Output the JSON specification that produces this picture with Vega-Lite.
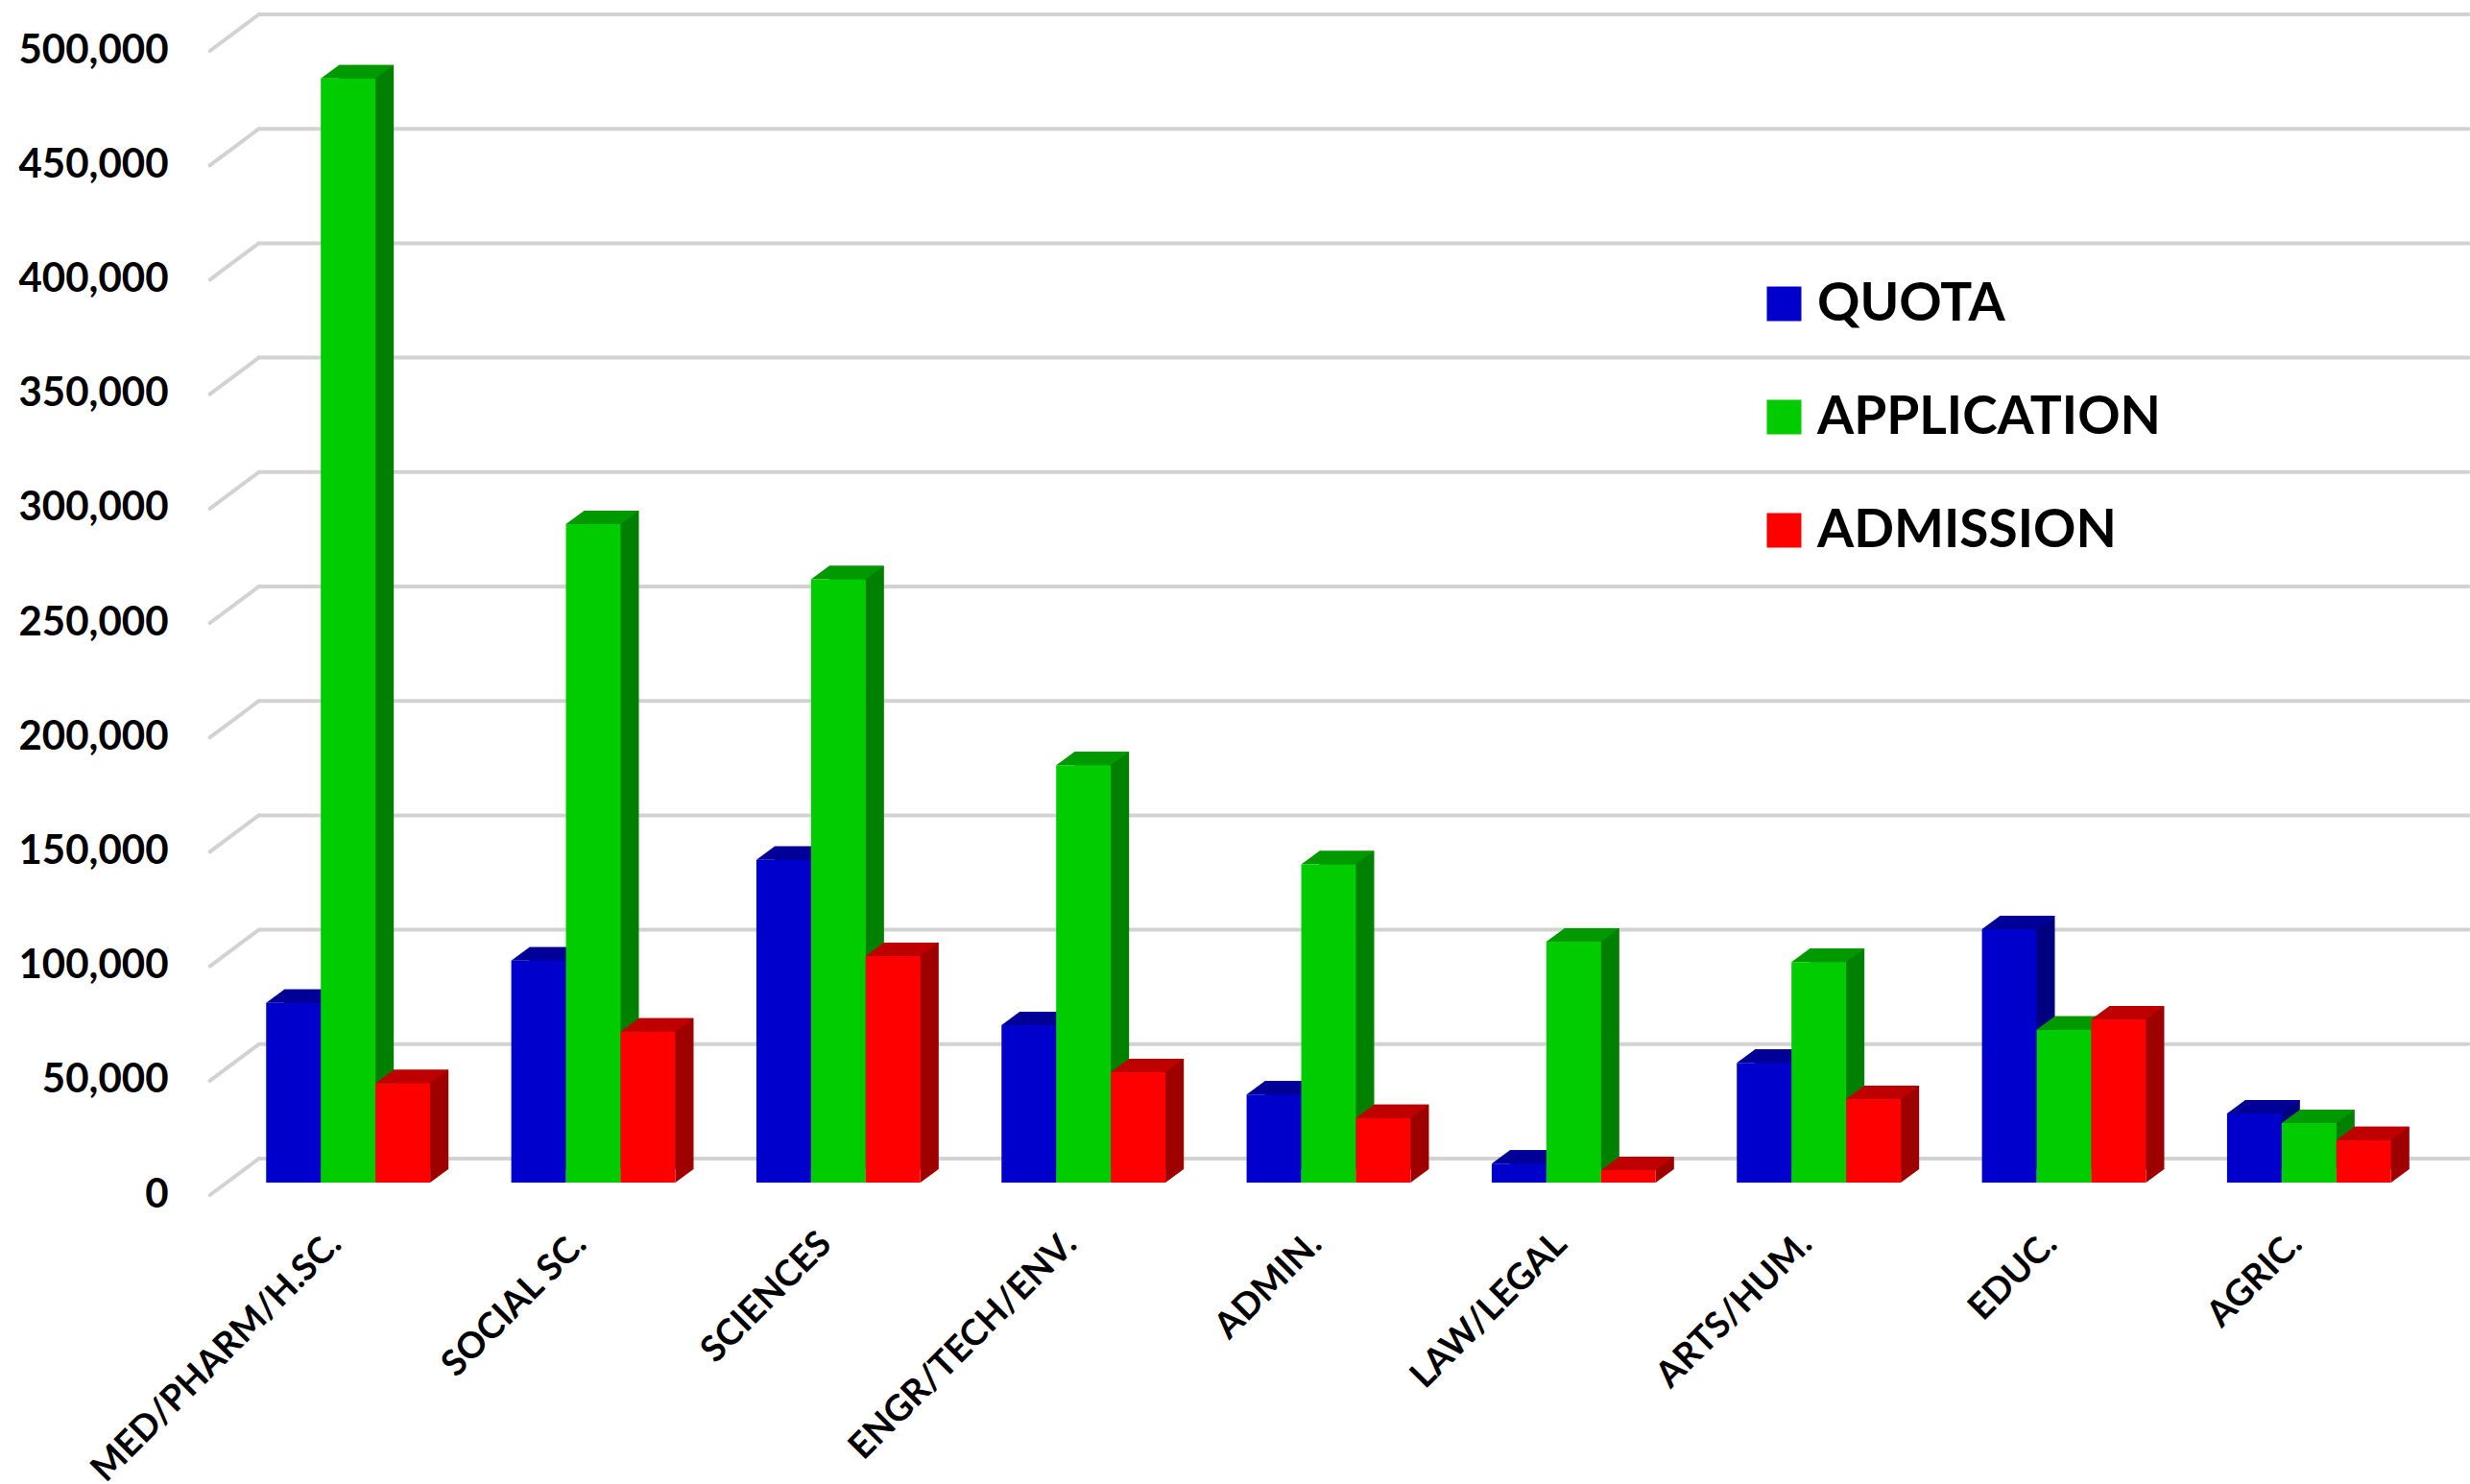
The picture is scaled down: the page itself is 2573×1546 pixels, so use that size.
{
"$schema":"https://vega.github.io/schema/vega-lite/v6.json",
"width":2298,"height":1192,
"autosize":{"type":"none"},
"padding":{"left":235,"top":40,"right":40,"bottom":314},
"background":"white",
"config":{"view":{"stroke":null},
 "axis":{"grid":false,"ticks":false,"domain":false,"labelColor":"#000000","labelFont":"Lato","labelFontWeight":"bold"},
 "axisX":{"labelAngle":-45,"labelAlign":"right","labelBaseline":"middle","labelFontSize":37.5,"labelPadding":58,"labelOffset":-13,"labelLimit":600},
 "axisY":{"labelFontSize":42,"labelPadding":60,"labelOffset":12,"labelOverlap":false}
},
"datasets":{
"grid":[{"tick":0,"from":"MED/PHARM/H.SC.","to":"AGRIC."},{"tick":50000,"from":"MED/PHARM/H.SC.","to":"AGRIC."},{"tick":100000,"from":"MED/PHARM/H.SC.","to":"AGRIC."},{"tick":150000,"from":"MED/PHARM/H.SC.","to":"AGRIC."},{"tick":200000,"from":"MED/PHARM/H.SC.","to":"AGRIC."},{"tick":250000,"from":"MED/PHARM/H.SC.","to":"AGRIC."},{"tick":300000,"from":"MED/PHARM/H.SC.","to":"AGRIC."},{"tick":350000,"from":"MED/PHARM/H.SC.","to":"AGRIC."},{"tick":400000,"from":"MED/PHARM/H.SC.","to":"AGRIC."},{"tick":450000,"from":"MED/PHARM/H.SC.","to":"AGRIC."},{"tick":500000,"from":"MED/PHARM/H.SC.","to":"AGRIC."}],
"bars":[
{"field":"MED/PHARM/H.SC.","series":"QUOTA","value":78500,"floor":0},{"field":"MED/PHARM/H.SC.","series":"APPLICATION","value":482500,"floor":0},{"field":"MED/PHARM/H.SC.","series":"ADMISSION","value":43400,"floor":0},
{"field":"SOCIAL SC.","series":"QUOTA","value":97000,"floor":0},{"field":"SOCIAL SC.","series":"APPLICATION","value":287700,"floor":0},{"field":"SOCIAL SC.","series":"ADMISSION","value":66000,"floor":0},
{"field":"SCIENCES","series":"QUOTA","value":141000,"floor":0},{"field":"SCIENCES","series":"APPLICATION","value":263600,"floor":0},{"field":"SCIENCES","series":"ADMISSION","value":99000,"floor":0},
{"field":"ENGR/TECH/ENV.","series":"QUOTA","value":68800,"floor":0},{"field":"ENGR/TECH/ENV.","series":"APPLICATION","value":182400,"floor":0},{"field":"ENGR/TECH/ENV.","series":"ADMISSION","value":48200,"floor":0},
{"field":"ADMIN.","series":"QUOTA","value":38500,"floor":0},{"field":"ADMIN.","series":"APPLICATION","value":139000,"floor":0},{"field":"ADMIN.","series":"ADMISSION","value":28200,"floor":0},
{"field":"LAW/LEGAL","series":"QUOTA","value":8300,"floor":0},{"field":"LAW/LEGAL","series":"APPLICATION","value":105300,"floor":0},{"field":"LAW/LEGAL","series":"ADMISSION","value":5500,"floor":0},
{"field":"ARTS/HUM.","series":"QUOTA","value":52300,"floor":0},{"field":"ARTS/HUM.","series":"APPLICATION","value":96400,"floor":0},{"field":"ARTS/HUM.","series":"ADMISSION","value":36500,"floor":0},
{"field":"EDUC.","series":"QUOTA","value":110700,"floor":0},{"field":"EDUC.","series":"APPLICATION","value":66800,"floor":0},{"field":"EDUC.","series":"ADMISSION","value":71300,"floor":0},
{"field":"AGRIC.","series":"QUOTA","value":30200,"floor":0},{"field":"AGRIC.","series":"APPLICATION","value":26000,"floor":0},{"field":"AGRIC.","series":"ADMISSION","value":18600,"floor":0}
]},
"resolve":{"scale":{"fill":"independent"}},
"layer":[
{"data":{"name":"grid"},
 "mark":{"type":"rule","stroke":"#d2d2d2","strokeWidth":4,"strokeCap":"round","xOffset":-93,"x2Offset":166,"yOffset":-25,"y2Offset":-25},
 "encoding":{
  "x":{"field":"from","type":"nominal","title":null,"sort":null,"scale":{"domain":["MED/PHARM/H.SC.","SOCIAL SC.","SCIENCES","ENGR/TECH/ENV.","ADMIN.","LAW/LEGAL","ARTS/HUM.","EDUC.","AGRIC."],"paddingInner":0.331,"paddingOuter":0.1655}},
  "x2":{"field":"to"},
  "y":{"field":"tick","type":"quantitative","title":null,"scale":{"domain":[0,500000],"nice":false},
   "axis":{"format":",.0f","values":[0,50000,100000,150000,200000,250000,300000,350000,400000,450000,500000]}}
 }},
{"data":{"name":"grid"},
 "mark":{"type":"point","filled":false,"opacity":1,"stroke":"#d2d2d2","strokeWidth":4,"strokeCap":"round","size":10000,"shape":"M-0.51,0.38L0.51,-0.38","xOffset":-118.5,"yOffset":-6},
 "encoding":{
  "x":{"field":"from","type":"nominal","title":null,"sort":null},
  "y":{"field":"tick","type":"quantitative","title":null,"axis":{"format":",.0f","values":[0,50000,100000,150000,200000,250000,300000,350000,400000,450000,500000]}}
 }},
{"data":{"name":"bars"},"transform":[{"filter":"datum.series==='QUOTA'"}],
 "mark":{"type":"bar","size":57,"fill":"#000080","xOffset":-38,"yOffset":-14,"y2Offset":-14},
 "encoding":{
  "x":{"field":"field","type":"nominal","sort":null,"title":null},
  "y":{"field":"value","type":"quantitative","title":null,"axis":{"format":",.0f","values":[0,50000,100000,150000,200000,250000,300000,350000,400000,450000,500000]}}
 }},
{"data":{"name":"bars"},"transform":[{"filter":"datum.series==='APPLICATION'"}],
 "mark":{"type":"bar","size":57,"fill":"#008000","xOffset":19,"yOffset":-14,"y2Offset":-14},
 "encoding":{
  "x":{"field":"field","type":"nominal","sort":null,"title":null},
  "y":{"field":"value","type":"quantitative","title":null,"axis":{"format":",.0f","values":[0,50000,100000,150000,200000,250000,300000,350000,400000,450000,500000]}}
 }},
{"data":{"name":"bars"},"transform":[{"filter":"datum.series==='ADMISSION'"}],
 "mark":{"type":"bar","size":57,"fill":"#9e0000","xOffset":76,"yOffset":-14,"y2Offset":-14},
 "encoding":{
  "x":{"field":"field","type":"nominal","sort":null,"title":null},
  "y":{"field":"value","type":"quantitative","title":null,"axis":{"format":",.0f","values":[0,50000,100000,150000,200000,250000,300000,350000,400000,450000,500000]}}
 }},
{"data":{"name":"bars"},
 "mark":{"type":"point","filled":true,"opacity":1,"size":10000,"shape":"M0.57,0L0.95,-0.28L0.57,-0.28Z"},
 "encoding":{
  "x":{"field":"field","type":"nominal","sort":null,"title":null},
  "xOffset":{"field":"series","type":"nominal","scale":{"domain":["QUOTA","APPLICATION","ADMISSION"]}},
  "y":{"field":"floor","type":"quantitative","title":null,"axis":{"format":",.0f","values":[0,50000,100000,150000,200000,250000,300000,350000,400000,450000,500000]}},
  "fill":{"field":"series","type":"nominal","legend":null,"scale":{"domain":["QUOTA","APPLICATION","ADMISSION"],"range":["#000080","#008000","#9e0000"]}}
 }},
{"data":{"name":"bars"},
 "mark":{"type":"point","filled":true,"opacity":1,"size":10000,"shape":"M-0.57,0L0.57,0L0.95,-0.28L-0.19,-0.28Z"},
 "encoding":{
  "x":{"field":"field","type":"nominal","sort":null,"title":null},
  "xOffset":{"field":"series","type":"nominal","scale":{"domain":["QUOTA","APPLICATION","ADMISSION"]}},
  "y":{"field":"value","type":"quantitative","title":null,"axis":{"format":",.0f","values":[0,50000,100000,150000,200000,250000,300000,350000,400000,450000,500000]}},
  "fill":{"field":"series","type":"nominal","legend":null,"scale":{"domain":["QUOTA","APPLICATION","ADMISSION"],"range":["#000099","#009900","#bf0000"]}}
 }},
{"data":{"name":"bars"},
 "mark":{"type":"bar"},
 "encoding":{
  "x":{"field":"field","type":"nominal","sort":null,"title":null},
  "xOffset":{"field":"series","type":"nominal","scale":{"domain":["QUOTA","APPLICATION","ADMISSION"]}},
  "y":{"field":"value","type":"quantitative","title":null,"axis":{"format":",.0f","values":[0,50000,100000,150000,200000,250000,300000,350000,400000,450000,500000]}},
  "fill":{"field":"series","type":"nominal","title":null,"scale":{"domain":["QUOTA","APPLICATION","ADMISSION"],"range":["#0000cc","#00cc00","#ff0000"]},
   "legend":{"orient":"none","legendX":1596,"legendY":249,"padding":0,"symbolType":"square","symbolSize":1296,"symbolStrokeWidth":0,"labelFont":"Lato","labelFontWeight":"bold","labelFontSize":55,"labelColor":"#000000","labelOffset":7,"rowPadding":62,"labelLimit":600}}
 }}
]
}
